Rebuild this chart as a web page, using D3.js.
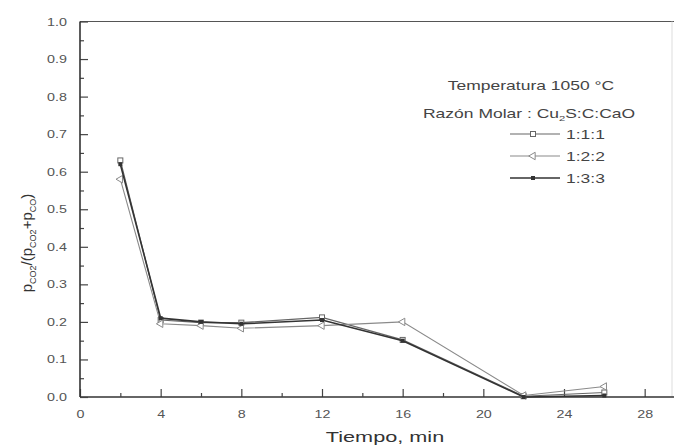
<!DOCTYPE html>
<meta charset="utf-8">
<script src="https://d3js.org/d3.v7.min.js"></script>
<style>
  body { margin: 0; background: #fff; }
  text { font-family: "Liberation Sans", Arial, sans-serif; }
</style>
<div id="chart"></div>
<script>

// data
var tiempo = [2, 4, 6, 8, 12, 16, 22, 26];
var serie111 = [0.630, 0.205, 0.198, 0.198, 0.212, 0.152, 0.002, 0.012];
var serie122 = [0.580, 0.195, 0.190, 0.183, 0.190, 0.200, 0.004, 0.028];
var serie133 = [0.620, 0.210, 0.200, 0.195, 0.205, 0.150, 0.000, 0.004];
var seriesNames = ["1:1:1", "1:2:2", "1:3:3"];
var xTicks = [0, 4, 8, 12, 16, 20, 24, 28];
var yTicks = [0.0, 0.1, 0.2, 0.3, 0.4, 0.5, 0.6, 0.7, 0.8, 0.9, 1.0];

var series = [
  {name: seriesNames[0], values: serie111, color: "#666", width: 1.2, marker: "square"},
  {name: seriesNames[1], values: serie122, color: "#8a8a8a", width: 1.1, marker: "triangle"},
  {name: seriesNames[2], values: serie133, color: "#333", width: 1.6, marker: "filled"}
];

var W = 674, H = 448;
var SX = 1.4; // the scanned figure is stretched sideways
var svg = d3.select("#chart").append("svg")
  .attr("width", W).attr("height", H);

var x = d3.scaleLinear().domain([0, 30]).range([80, 685]);
var y = d3.scaleLinear().domain([0, 1]).range([397, 21.5]);

// stretched text helper
function label(px, py, str, size, anchor, color) {
  return svg.append("text")
    .attr("transform", "translate(" + px + "," + py + ") scale(" + SX + ",1)")
    .attr("text-anchor", anchor || "start")
    .attr("fill", color || "#444")
    .style("font-size", size + "px")
    .text(str);
}

// frame (top + right) of the plot box
svg.append("line").attr("x1", x(0)).attr("x2", W).attr("y1", y(1)).attr("y2", y(1))
  .attr("stroke", "#555").attr("stroke-width", 1.2);
svg.append("line").attr("x1", 672).attr("x2", 672).attr("y1", y(1)).attr("y2", y(0))
  .attr("stroke", "#ddd").attr("stroke-width", 1);

// x axis, ticks pointing inward
var xAxis = svg.append("g").attr("transform", "translate(0," + y(0) + ")")
  .call(d3.axisBottom(x).tickValues(xTicks).tickSize(-8).tickPadding(13).tickFormat(d3.format("d")));
xAxis.selectAll(".domain").remove();
xAxis.selectAll(".tick text").attr("transform", "scale(1.3,1)");
svg.append("line").attr("x1", x(0)).attr("x2", W).attr("y1", y(0)).attr("y2", y(0))
  .attr("stroke", "#333").attr("stroke-width", 1.4);
svg.append("g").attr("transform", "translate(0," + y(0) + ")")
  .call(d3.axisBottom(x).tickValues(d3.range(2, 30, 4)).tickSize(-4).tickFormat(""))
  .selectAll(".domain").remove();

// y axis, ticks pointing inward
var yAxis = svg.append("g").attr("transform", "translate(" + x(0) + ",0)")
  .call(d3.axisLeft(y).tickValues(yTicks).tickSize(-8).tickFormat(d3.format(".1f")));
yAxis.select(".domain").remove();
yAxis.selectAll(".tick text").attr("x", -13 / 1.3).attr("transform", "scale(1.3,1)");
svg.append("g").attr("transform", "translate(" + x(0) + ",0)")
  .call(d3.axisLeft(y).tickValues(d3.range(0.05, 1, 0.1)).tickSize(-4).tickFormat(""))
  .select(".domain").remove();
svg.append("line").attr("x1", x(0)).attr("x2", x(0)).attr("y1", y(1)).attr("y2", y(0))
  .attr("stroke", "#333").attr("stroke-width", 1.6);

svg.selectAll(".tick line").attr("stroke", "#444").attr("stroke-width", 1.2);
svg.selectAll(".tick text").attr("fill", "#555").style("font-size", "11px");

// lines
var line = d3.line()
  .x(function(d, i) { return x(tiempo[i]); })
  .y(function(d) { return y(d); });

function drawMarker(g, type, cx, cy, color) {
  if (type == "square") {
    g.append("rect").attr("x", cx - 2.5).attr("y", cy - 2.5).attr("width", 5).attr("height", 5)
      .attr("fill", "#fff").attr("stroke", color).attr("stroke-width", 1);
  } else if (type == "triangle") {
    g.append("path").attr("d", d3.symbol(d3.symbolTriangle, 24)())
      .attr("transform", "translate(" + cx + "," + cy + ") rotate(-90)")
      .attr("fill", "#fff").attr("stroke", color).attr("stroke-width", 1);
  } else {
    g.append("rect").attr("x", cx - 2).attr("y", cy - 2).attr("width", 4).attr("height", 4)
      .attr("fill", color);
  }
}

series.forEach(function(s) {
  svg.append("path").datum(s.values)
    .attr("fill", "none").attr("stroke", s.color).attr("stroke-width", s.width)
    .attr("d", line);
  var g = svg.append("g");
  s.values.forEach(function(v, i) {
    drawMarker(g, s.marker, x(tiempo[i]), y(v), s.color);
  });
});

// annotations / legend
label(531, 90, "Temperatura 1050 °C", 12.5, "middle");

var rz = label(423, 118, "", 12.5, "start");
rz.append("tspan").text("Razón Molar : Cu");
rz.append("tspan").attr("dy", 3).style("font-size", "8px").text("2");
rz.append("tspan").attr("dy", -3).text("S:C:CaO");

series.forEach(function(s, i) {
  var ly = 134 + i * 22;
  svg.append("line").attr("x1", 510).attr("x2", 560).attr("y1", ly).attr("y2", ly)
    .attr("stroke", s.color).attr("stroke-width", s.width);
  drawMarker(svg.append("g"), s.marker, 533, ly, s.color);
  label(566, ly + 4.5, s.name, 12.5, "start");
});

// axis titles
label(385, 442, "Tiempo, min", 15.5, "middle", "#333");

var yl = svg.append("text").attr("transform", "translate(32,243) rotate(-90)")
  .attr("text-anchor", "middle").attr("fill", "#333").style("font-size", "15px");
yl.append("tspan").text("p");
yl.append("tspan").attr("dy", 4).style("font-size", "9px").text("CO2");
yl.append("tspan").attr("dy", -4).text("/(p");
yl.append("tspan").attr("dy", 4).style("font-size", "9px").text("CO2");
yl.append("tspan").attr("dy", -4).text("+p");
yl.append("tspan").attr("dy", 4).style("font-size", "9px").text("CO");
yl.append("tspan").attr("dy", -4).text(")");

</script>
